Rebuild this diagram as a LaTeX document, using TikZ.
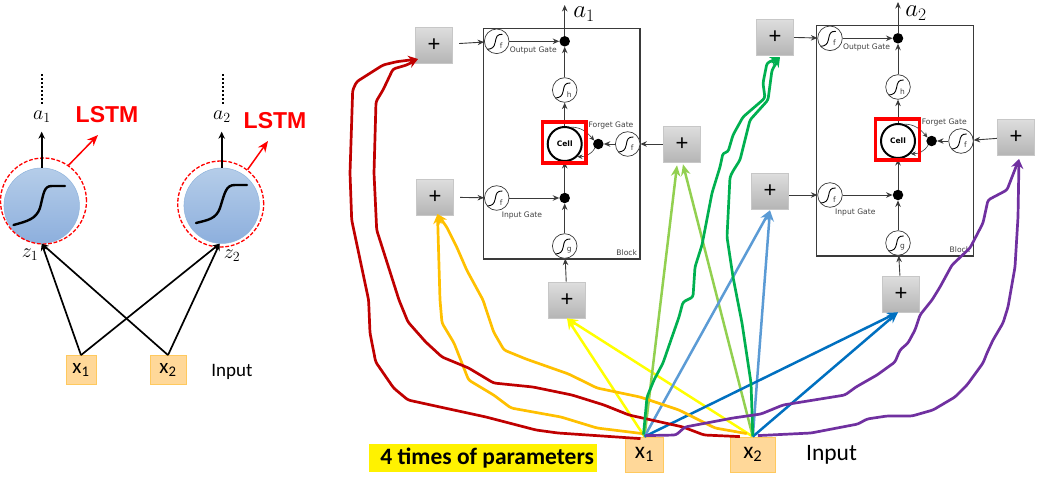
\documentclass[tikz,border=0pt]{standalone}
\usepackage{fix-cm}
\usepackage{fontspec}
\setmainfont{Carlito}
\newfontfamily\djv{DejaVu Sans}
\newfontfamily\lib{Liberation Sans}
\usetikzlibrary{arrows.meta,calc}
\newcommand{\fsz}[1]{\fontsize{#1}{#1}\selectfont}
\definecolor{inkred}{HTML}{C00000}
\definecolor{inkorange}{HTML}{FFC000}
\definecolor{inkyellow}{HTML}{FFFF00}
\definecolor{inklime}{HTML}{92D050}
\definecolor{inkgreen}{HTML}{00B050}
\definecolor{inksky}{HTML}{5B9BD5}
\definecolor{inkblue}{HTML}{0070C0}
\definecolor{inkpurple}{HTML}{7030A0}
\definecolor{gateink}{HTML}{3A3A3A}
\definecolor{neutop}{HTML}{B5CDE9}
\definecolor{neubot}{HTML}{8DAFDD}
\definecolor{neuedge}{HTML}{8FB4DC}
\definecolor{inputfill}{HTML}{FFD899}
\definecolor{inputedge}{HTML}{FFC95E}
\tikzset{
  plusbox/.style={rectangle,draw=black!22,line width=.6,top color=black!13,bottom color=black!29,minimum width=37.5,minimum height=36,inner sep=0,font=\lib\fsz{22}},
  inbox/.style={rectangle,draw=inputedge,line width=.8,fill=inputfill,minimum height=35,inner sep=0,font=\fsz{21}},
  neuron/.style={circle,draw=neuedge,line width=.5,top color=neutop,bottom color=neubot,minimum size=75.5,inner sep=0},
  dashring/.style={circle,draw=red,dash pattern=on 3.8 off 1.8,line width=1.3,minimum size=86,inner sep=0},
  gatec/.style={circle,draw=gateink,line width=.7,fill=white,minimum size=24.6,inner sep=0},
  gdot/.style={circle,fill=black,minimum size=10.5,inner sep=0},
  gatearrow/.style={draw=gateink,line width=.9,-{Stealth[length=6.5,width=5.5]}},
  blackarrow/.style={draw=black,line width=1.7,-{Stealth[length=7,width=6.5]}},
  redarrow/.style={draw=red,line width=1.5,-{Stealth[length=11,width=9]}},
  ink/.style={line width=2.7,rounded corners=2.5,line join=round,-{Stealth[length=10,width=9]}},
  straightink/.style={line width=2.5,-{Stealth[length=11,width=9.5]}},
  gatelabel/.style={font=\djv\fsz{7.6},text=black!75,inner sep=0},
  siglabel/.style={font=\djv\fsz{7.5},text=black!75,inner sep=0},
}
\newcommand{\sigcurve}[1]{%
  \draw[line width=.9,line cap=round] ($(#1)+(-9,8)$) .. controls ($(#1)+(-5,7.5)$) and ($(#1)+(-2.5,6.5)$) .. ($(#1)+(-1.5,1)$) .. controls ($(#1)+(-.5,-5)$) and ($(#1)+(.5,-7)$) .. ($(#1)+(5.5,-7)$);}
\begin{document}
\begin{tikzpicture}[x=1pt,y=-1pt]
\useasboundingbox (0,0) rectangle (1039,479);
\fill[white] (0,0) rectangle (1039,479);

%% ---------- left network ----------
\node[neuron] (nA) at (41.7,205.7) {};
\node[neuron] (nB) at (221.7,205.7) {};
\node[dashring] (rA) at (43.5,201) {};
\node[dashring] (rB) at (220.7,204) {};
\draw[line width=2.4,line cap=round] (13.5,225) .. controls (28,221) and (36,219) .. (40,208) .. controls (44,192) and (44,186) .. (52,186) -- (65,186);
\draw[line width=2.4,line cap=round] (196,223) .. controls (208,220) and (216,219) .. (220,208) .. controls (225,192) and (226,185) .. (235,185) -- (247,185);
\node[font=\fsz{20},inner sep=0] (aA) at (42,117) {$a_1$};
\node[font=\fsz{20},inner sep=0] (aB) at (222,117) {$a_2$};
\node[font=\fsz{20},inner sep=0] (zA) at (30,255) {$z_1$};
\node[font=\fsz{20},inner sep=0] (zB) at (232,256) {$z_2$};
\node[font=\lib\bfseries\fsz{23},text=red,inner sep=0] (lA) at (107,115) {LSTM};
\node[font=\lib\bfseries\fsz{23},text=red,inner sep=0] (lB) at (275,121) {LSTM};
\node[inbox,minimum width=30,minimum height=29] (xa) at (81,370) {x\textsubscript{1}};
\node[inbox,minimum width=36,minimum height=29] (xb) at (168,370) {x\textsubscript{2}};
\node[font=\fsz{19},inner sep=0] (inA) at (232,372) {Input};
\coordinate (tA) at (98,135);
\coordinate (tB) at (268,141);
\coordinate (dA1) at (42,74);
\coordinate (dA2) at (42,105);
\coordinate (dB1) at (223,74);
\coordinate (dB2) at (223,105);
\draw[line width=1.9,dash pattern=on 1.9 off 2.1] (dA1) -- (dA2);
\draw[line width=1.9,dash pattern=on 1.9 off 2.1] (dB1) -- (dB2);
\draw[blackarrow] (nA.north) -- ($(nA.north)+(0,-36)$);
\draw[blackarrow] (nB.north) -- ($(nB.north)+(0,-36)$);
\draw[redarrow] (rA.55) -- (tA);
\draw[redarrow] (rB.52) -- (tB);
\draw[blackarrow] (xa.north) -- (nA.south);
\draw[blackarrow] (xb.north) -- (nA.south);
\draw[blackarrow] (xa.north) -- ($(nB.south)+(-2,0)$);
\draw[blackarrow] (xb.north) -- ($(nB.south)+(-2,0)$);

%% ---------- LSTM blocks ----------
\foreach \p/\dx/\dy/\n in {A/0/0/1,B/333.3/-3/2}{
\begin{scope}[shift={(\dx,\dy)}]
  \node[draw=gateink,line width=1.2,minimum width=156.5,minimum height=230.3,inner sep=0] (block\p) at (561.8,143.9) {};
  \node[gatec] (out\p) at (496.7,41.3) {};
  \node[gatec] (hh\p) at (564.7,90) {};
  \node[gatec] (inp\p) at (496.7,198) {};
  \node[gatec] (gg\p) at (564.7,246) {};
  \node[gatec] (fg\p) at (627.7,144) {};
  \node[gdot] (dout\p) at (564.7,41.3) {};
  \node[gdot] (dinp\p) at (564.7,198) {};
  \node[gdot] (dfg\p) at (598.3,144) {};
  \node[circle,draw=black,line width=2,fill=white,minimum size=34,inner sep=0,font=\djv\bfseries\fsz{7.5}] (cell\p) at (564.7,144) {Cell};
  \node[gatelabel] (lo\p) at (533.3,50) {Output Gate};
  \node[gatelabel] (lf\p) at (611,125) {Forget Gate};
  \node[gatelabel] (li\p) at (522,215) {Input Gate};
  \node[gatelabel] (lb\p) at (626.7,253) {Block};
  \sigcurve{out\p}\sigcurve{hh\p}\sigcurve{inp\p}\sigcurve{gg\p}\sigcurve{fg\p}
  \node[siglabel] at ($(out\p)+(4.5,4)$) {f};
  \node[siglabel] at ($(hh\p)+(4.5,5)$) {h};
  \node[siglabel] at ($(inp\p)+(4.5,5)$) {f};
  \node[siglabel] at ($(gg\p)+(4.5,4)$) {g};
  \node[siglabel] at ($(fg\p)+(4.5,4)$) {f};
  \coordinate (top\p) at (564.7,5);
  \draw[gatearrow] (dout\p) -- (top\p);
  \draw[gatearrow] (out\p) -- (dout\p);
  \draw[gatearrow] (hh\p) -- (dout\p);
  \draw[gatearrow] (cell\p) -- (hh\p);
  \draw[gatearrow] (dinp\p) -- (cell\p);
  \draw[gatearrow] (inp\p) -- (dinp\p);
  \draw[gatearrow] (gg\p) -- (dinp\p);
  \draw[gatearrow] (fg\p) -- (dfg\p);
  \draw[draw=gateink,line width=.6,-{Stealth[length=5,width=4.5]}] (cell\p.70) to[out=0,in=130] (dfg\p.140);
  \draw[draw=gateink,line width=.6,-{Stealth[length=5,width=4.5]}] (dfg\p.230) to[out=240,in=0] (cell\p.-45);
  \node[draw=red,line width=3.2,minimum width=43.5,minimum height=41,inner sep=0] (rbox\p) at (564.3,142.5) {};
\end{scope}}
\node[font=\fsz{25},inner sep=0] (topA) at (584,14) {$a_1$};
\node[font=\fsz{25},inner sep=0] (topB) at (916,13) {$a_2$};

\node[plusbox] (pa) at (434,45) {+};
\node[plusbox] (pb) at (435,197) {+};
\node[plusbox] (pc) at (567,300) {+};
\node[plusbox] (pd) at (682,144) {+};
\node[plusbox] (qa) at (775,37) {+};
\node[plusbox] (qb) at (770,191) {+};
\node[plusbox] (qc) at (901,294) {+};
\node[plusbox] (qd) at (1016,137) {+};
\draw[gatearrow,shorten <=6] (pa) -- (outA);
\draw[gatearrow,shorten <=6] (pb) -- (inpA);
\draw[gatearrow] (pc) -- (ggA);
\draw[gatearrow] (pd) -- (fgA);
\draw[gatearrow] (qa) -- (outB);
\draw[gatearrow] (qb.east |- inpB) -- (inpB);
\draw[gatearrow] (qc) -- (ggB);
\draw[gatearrow] (qd) -- (fgB);

%% ---------- inputs ----------
\node[inbox,minimum width=37.5,font=\fsz{23.5}] (xA) at (644.5,454.5) {x\textsubscript{1}};
\node[inbox,minimum width=44.5,font=\fsz{23.5}] (xB) at (752.8,454.5) {x\textsubscript{2}};
\node[font=\fsz{23.5},inner sep=0] (inB) at (831.5,455) {Input};
\node[fill=yellow,minimum width=228.5,minimum height=28,inner sep=0,font=\bfseries\fsz{23.5}] (hl) at (483.2,458) {\hspace*{8pt}4 times of parameters};

%% ---------- hand-drawn connectors ----------
\draw[inkyellow,straightink] (xA.north) -- (pc.south);
\draw[inkyellow,straightink] (xB.north) -- (pc.south);
\draw[inklime,straightink] (xA.north) -- ($(pd.south)+(-5,3)$);
\draw[inklime,straightink] (xB.north) -- ($(pd.south)+(1,2)$);
\draw[inksky,straightink] (xA.north) -- ($(qb.south)+(0,1)$);
\draw[inksky,straightink] (xB.north) -- ($(qb.south)+(0,1)$);
\draw[inkblue,straightink] (xA.north) -- ($(qc.south)+(-3,0)$);
\draw[inkblue,straightink] (xB.north) -- ($(qc.south)+(-3,0)$);

\draw[inkorange,ink] ($(xA.north)+(-2,-3)$) -- (597,428) -- (561,417) -- (511,408) -- (493.6,395) -- (468.6,380) -- (454,343) -- (442,323) -- (440,300) -- (437.5,214);
\draw[inkorange,ink] ($(xB.north)+(-6,-3)$) -- (715,428) -- (679,410) -- (640,397) -- (597,388) -- (568.6,374) -- (526,359) -- (504,350) -- (493.6,332) -- (483,300) -- (466.7,270) -- (456.7,247) -- (446.7,227) -- (437.5,214);

\draw[inkred,ink] ($(xA.north)+(-4,2)$) -- (558,433) -- (536,430) -- (486,417) -- (440,407) -- (408,400) -- (393.6,388) -- (375.7,362) -- (370,333) -- (368.6,300) -- (351.7,220) -- (350,173) -- (352.7,90) -- (356.7,81.7) -- (383,65) -- (396.7,61.7) -- (418,59);
\draw[inkred,ink] ($(xB.north)+(-13,0)$) -- (704,435) -- (683,427) -- (629,415) -- (604,405) -- (572,395) -- (533,387) -- (493.6,383) -- (468.6,368) -- (442,357) -- (425.7,342) -- (408,322) -- (399,300) -- (376.7,230) -- (374,173) -- (376,101.7) -- (383,90) -- (393,69) -- (406.7,65) -- (418,59);

\draw[inkgreen,ink] ($(xA.north)+(-1,-2)$) -- (647,397) -- (654,380) -- (663,363) -- (672,337) -- (679,317) -- (683,302) -- (693,297) -- (695,267) -- (702,245) -- (712,193) -- (720,167) -- (723,153) -- (728,152) -- (733,135) -- (743,117) -- (765,98) -- (763,83) -- (767,63) -- (780,57);
\draw[inkgreen,ink] ($(xB.north)+(0,-1)$) -- (751,383) -- (742,323) -- (733,277) -- (727,237) -- (730,177) -- (733,171) -- (740,160) -- (750,120) -- (768,100) -- (772,70) -- (780,57);

\draw[inkpurple,ink] ($(xA.north)+(1,-1)$) -- (676,435) -- (685,427) -- (733,418) -- (761,414) -- (783,405) -- (845,395) -- (856,387) -- (877,375) -- (895,362) -- (900,350) -- (908,343) -- (915,330) -- (920,315) -- (932,300) -- (940,287) -- (952,265) -- (970,248) -- (983,223) -- (988,200) -- (1007,190) -- (1019,159);
\draw[inkpurple,ink] ($(xB.north)+(5,-1)$) -- (811,433) -- (858,424) -- (867,419) -- (887,416) -- (912,416) -- (933,410) -- (955,397) -- (967,385) -- (983,363) -- (987,353) -- (993,340) -- (1003,323) -- (1008,307) -- (1015,267) -- (1018,217) -- (1019,159);
\end{tikzpicture}
\end{document}
